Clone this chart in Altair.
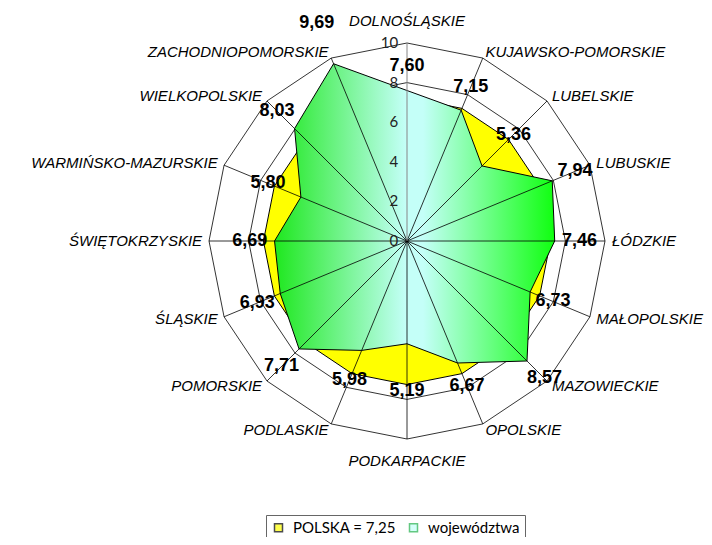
import math
import altair as alt
import pandas as pd

categories = ["DOLNOŚLĄSKIE", "KUJAWSKO-POMORSKIE", "LUBELSKIE", "LUBUSKIE", "ŁÓDZKIE",
              "MAŁOPOLSKIE", "MAZOWIECKIE", "OPOLSKIE", "PODKARPACKIE", "PODLASKIE",
              "POMORSKIE", "ŚLĄSKIE", "ŚWIĘTOKRZYSKIE", "WARMIŃSKO-MAZURSKIE",
              "WIELKOPOLSKIE", "ZACHODNIOPOMORSKIE"]
values = [7.60, 7.15, 5.36, 7.94, 7.46, 6.73, 8.57, 6.67, 5.19, 5.98, 7.71, 6.93,
          6.69, 5.80, 8.03, 9.69]
polska = 7.25
ticks = [0, 2, 4, 6, 8, 10]
series_names = ["POLSKA = 7,25", "województwa"]

N = len(categories)
RMAX = 10


def pt(r, i):
    a = math.radians(i * 360.0 / N)
    return r * math.sin(a), r * math.cos(a)


def poly(rs, extra=None):
    rows = []
    for k in range(N + 1):
        i = k % N
        x, y = pt(rs[i], i)
        row = {"x": x, "y": y, "o": k}
        if extra:
            row.update(extra)
        rows.append(row)
    return rows

grid_rows = []
for t in ticks[1:]:
    grid_rows += poly([t] * N, {"lvl": t})
grid_df = pd.DataFrame(grid_rows)
pol_df = pd.DataFrame(poly([polska] * N))
woj_df = pd.DataFrame(poly(values))

spoke_rows = []
for i in range(1, N):
    x, y = pt(RMAX, i)
    spoke_rows.append({"x": 0, "y": 0, "x2": x, "y2": y})
spoke_df = pd.DataFrame(spoke_rows)
axis_df = pd.DataFrame([{"x": 0, "y": 0, "x2": 0, "y2": RMAX}])

tick_df = pd.DataFrame({"y": ticks, "x": [-0.45] * len(ticks), "t": [str(t) for t in ticks]})

val_rows = []
for i, v in enumerate(values):
    r = max(v + 1.25, 7.6)
    if r > 10.2:  # would sit on the outer ring: put it beyond the category name
        r = 11.9
    x, y = pt(r, i)
    val_rows.append({"x": x, "y": y, "t": f"{v:.2f}".replace(".", ",")})
val_df = pd.DataFrame(val_rows)

cat_rows = []
for i, c in enumerate(categories):
    s = math.sin(math.radians(i * 360.0 / N))
    if abs(s) < 0.01:
        al, r = "center", 11.1
    elif s > 0:
        al, r = "left", 10.35
    else:
        al, r = "right", 10.35
    x, y = pt(r, i)
    cat_rows.append({"x": x, "y": y, "t": c, "al": al})
cat_df = pd.DataFrame(cat_rows)

W, H = 696, 529
PX = 19.8
cx, cy = 399, 233
xs = alt.Scale(domain=[-cx / PX, (W - cx) / PX], nice=False, zero=False)
ys = alt.Scale(domain=[-(H - cy) / PX, cy / PX], nice=False, zero=False)
X = alt.X("x:Q", scale=xs, axis=None)
Y = alt.Y("y:Q", scale=ys, axis=None)

grid = alt.Chart(grid_df).mark_line(color="black", strokeWidth=0.8).encode(
    x=X, y=Y, detail="lvl:N", order="o:Q")

yellow = alt.Chart(pol_df).mark_line(fill="#ffff00", stroke="black", strokeWidth=1).encode(
    x=X, y=Y, order="o:Q")

grad = alt.Gradient(gradient="linear", x1=0, x2=1, y1=0, y2=0,
                    stops=[alt.GradientStop(color="#1ee81e", offset=0),
                           alt.GradientStop(color="#c4fff8", offset=0.47),
                           alt.GradientStop(color="#c4fff8", offset=0.53),
                           alt.GradientStop(color="#10ff10", offset=1)])
green = alt.Chart(woj_df).mark_line(fill=grad, stroke="black", strokeWidth=1).encode(
    x=X, y=Y, order="o:Q")

spokes = alt.Chart(spoke_df).mark_rule(color="black", strokeWidth=0.8).encode(
    x=X, y=Y, x2="x2:Q", y2="y2:Q")
vaxis = alt.Chart(axis_df).mark_rule(color="#868686", strokeWidth=1).encode(
    x=X, y=Y, x2="x2:Q", y2="y2:Q")

tick_lbl = alt.Chart(tick_df).mark_text(align="right", baseline="middle", font="Lato",
                                        fontSize=15, color="#222").encode(x=X, y=Y, text="t:N")

val_lbl = alt.Chart(val_df).mark_text(align="center", baseline="middle", font="Liberation Sans",
                                      fontSize=18, fontWeight="bold", color="black").encode(
    x=X, y=Y, text="t:N")

cat_layers = []
for al in ["left", "right", "center"]:
    cat_layers.append(
        alt.Chart(cat_df[cat_df["al"] == al]).mark_text(
            align=al, baseline="middle", font="Liberation Sans", fontStyle="italic",
            fontSize=15, color="black").encode(x=X, y=Y, text="t:N"))

leg_kw = dict(title=None, orient="none", legendX=258, legendY=507,
              direction="horizontal", strokeColor="#666",
              fillColor="white", padding=5, symbolType="square",
              symbolSize=64, symbolStrokeWidth=1.5,
              labelFont="Lato", labelFontSize=15, labelColor="black",
              columnPadding=10, labelOffset=7)
leg_df = pd.DataFrame({"s": series_names})
legend_layer = alt.Chart(leg_df).mark_square(size=64).encode(
    fill=alt.Fill("s:N", scale=alt.Scale(domain=series_names, range=["#ffff00", "#c4fff8"]),
                  legend=alt.Legend(**leg_kw)),
    stroke=alt.Stroke("s:N", scale=alt.Scale(domain=series_names, range=["#000000", "#22b14c"]),
                      legend=alt.Legend(**leg_kw)),
).transform_filter("false")

chart = alt.layer(legend_layer, grid, yellow, green, spokes, vaxis, tick_lbl, val_lbl,
                  *cat_layers).properties(
    width=W, height=H, autosize=alt.AutoSizeParams(type="none"), padding=0
).configure_view(stroke=None)

chart.save("out.html", embed_options={"renderer": "svg", "actions": False})
